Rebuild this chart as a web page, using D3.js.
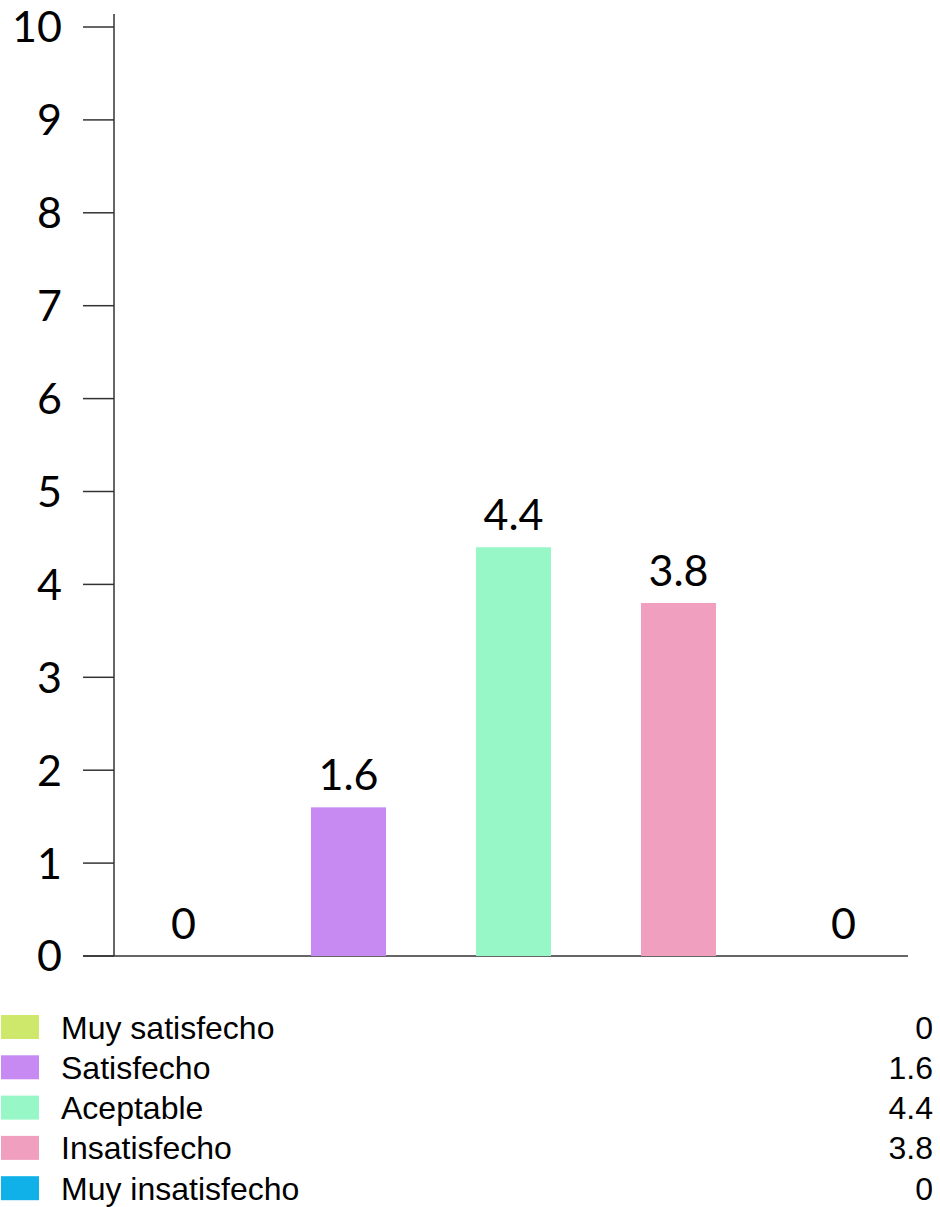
<!DOCTYPE html>
<html><head><meta charset="utf-8">
<script src="https://cdn.jsdelivr.net/npm/d3@7"></script>
<style>body{margin:0;background:#fff}</style>
</head><body>
<svg id="c" width="940" height="1207"></svg>
<script>
const categories = ["Muy satisfecho","Satisfecho","Aceptable","Insatisfecho","Muy insatisfecho"];
const values = [0, 1.6, 4.4, 3.8, 0];
const valueLabels = ["0","1.6","4.4","3.8","0"];
const colors = ["#cde86a","#c78af2","#98f7c7","#f0a0be","#10b0e8"];
const yTicks = [0,1,2,3,4,5,6,7,8,9,10];

const svg = d3.select("#c");
const axisFont = "Lato, 'DejaVu Sans', sans-serif";
const y = d3.scaleLinear().domain([0,10]).range([956,27]);
const p = 0.5455;
const x = d3.scaleBand().domain(categories).range([101,926]).paddingInner(p).paddingOuter(p/2);

// axes lines
svg.append("line").attr("x1",114).attr("x2",114).attr("y1",14).attr("y2",y(0))
  .attr("stroke","#333").attr("stroke-width",1.5);
svg.append("line").attr("x1",83).attr("x2",908).attr("y1",y(0)).attr("y2",y(0))
  .attr("stroke","#333").attr("stroke-width",1.5);

const tg = svg.append("g");
tg.selectAll("line").data(yTicks).join("line")
  .attr("x1",83).attr("x2",114).attr("y1",d=>y(d)).attr("y2",d=>y(d))
  .attr("stroke","#333").attr("stroke-width",1.5);
tg.selectAll("text").data(yTicks).join("text")
  .attr("x",62).attr("y",d=>y(d)).attr("dy","0.36em")
  .attr("text-anchor","end").attr("font-family",axisFont).attr("font-size",43)
  .attr("fill","#000").text(d=>d);

// bars
svg.selectAll("rect.bar").data(values).join("rect").attr("class","bar")
  .attr("x",(d,i)=>x(categories[i])).attr("width",x.bandwidth())
  .attr("y",d=>y(d)).attr("height",d=>y(0)-y(d))
  .attr("fill",(d,i)=>colors[i]);
svg.selectAll("text.vl").data(values).join("text").attr("class","vl")
  .attr("x",(d,i)=>x(categories[i])+x.bandwidth()/2)
  .attr("y",d=>y(d)-17).attr("text-anchor","middle")
  .attr("font-family",axisFont).attr("font-size",43).attr("fill","#000")
  .text((d,i)=>valueLabels[i]);

// legend
const lg = svg.append("g");
const rowY = i => 1027 + i*40.3;
lg.selectAll("rect").data(categories).join("rect")
  .attr("x",1).attr("width",38).attr("y",(d,i)=>rowY(i)-12).attr("height",24)
  .attr("fill",(d,i)=>colors[i]);
lg.selectAll("text.ln").data(categories).join("text").attr("class","ln")
  .attr("x",61).attr("y",(d,i)=>rowY(i)).attr("dy","0.36em")
  .attr("font-family","'Liberation Sans', Arial, sans-serif").attr("font-size",32)
  .attr("fill","#000").text(d=>d);
lg.selectAll("text.lv").data(valueLabels).join("text").attr("class","lv")
  .attr("x",933).attr("y",(d,i)=>rowY(i)).attr("dy","0.36em").attr("text-anchor","end")
  .attr("font-family","'Liberation Sans', Arial, sans-serif").attr("font-size",32)
  .attr("fill","#000").text(d=>d);
</script>
</body></html>
